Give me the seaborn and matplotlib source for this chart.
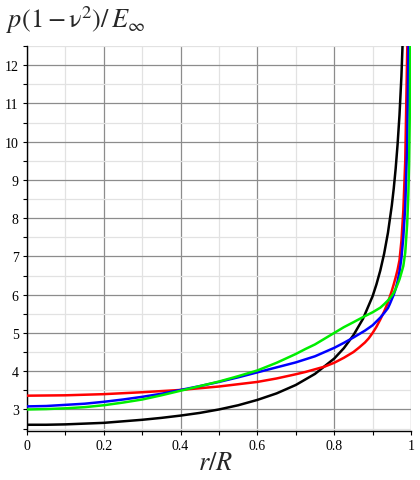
import numpy as np
import pandas as pd
import seaborn as sns
import matplotlib
matplotlib.use("Agg")
import matplotlib.pyplot as plt
from matplotlib.ticker import MultipleLocator

# values
r_black = [0, 0.05, 0.1, 0.15, 0.2, 0.25, 0.3, 0.35, 0.4, 0.45, 0.5, 0.55,
           0.6, 0.65, 0.7, 0.75, 0.8, 0.825, 0.85, 0.875, 0.9, 0.91, 0.92,
           0.93, 0.94, 0.95, 0.955, 0.96, 0.965, 0.97, 0.975, 0.98]
p_black = [2.60, 2.60, 2.61, 2.63, 2.65, 2.69, 2.73, 2.78, 2.84, 2.91, 3.00,
           3.11, 3.25, 3.42, 3.64, 3.93, 4.33, 4.60, 4.94, 5.37, 5.96, 6.27,
           6.63, 7.07, 7.62, 8.33, 8.77, 9.29, 9.92, 10.69, 11.70, 13.07]

r_red = [0, 0.1, 0.2, 0.3, 0.4, 0.5, 0.6, 0.65, 0.7, 0.725, 0.75, 0.775,
         0.8, 0.825, 0.85, 0.865, 0.88, 0.89, 0.9, 0.91, 0.92, 0.93, 0.94,
         0.945, 0.95, 0.955, 0.96, 0.965, 0.97, 0.975, 0.98, 0.985, 0.99,
         0.992]
p_red = [3.36, 3.37, 3.40, 3.45, 3.51, 3.60, 3.72, 3.81, 3.92, 3.98, 4.05,
         4.12, 4.22, 4.35, 4.50, 4.62, 4.75, 4.86, 5.00, 5.16, 5.35, 5.56,
         5.80, 5.95, 6.10, 6.27, 6.45, 6.65, 6.90, 7.40, 8.20, 9.50, 12.30,
         13.2]

r_blue = [0, 0.05, 0.1, 0.15, 0.2, 0.25, 0.3, 0.35, 0.4, 0.45, 0.5, 0.55,
          0.6, 0.65, 0.7, 0.75, 0.8, 0.825, 0.85, 0.865, 0.88, 0.89, 0.9,
          0.91, 0.92, 0.93, 0.94, 0.945, 0.95, 0.955, 0.96, 0.965, 0.97,
          0.975, 0.98, 0.985, 0.99, 0.995]
p_blue = [3.08, 3.09, 3.12, 3.15, 3.20, 3.26, 3.33, 3.41, 3.51, 3.61, 3.72,
          3.84, 3.97, 4.10, 4.23, 4.39, 4.61, 4.74, 4.88, 4.97, 5.06, 5.13,
          5.20, 5.30, 5.40, 5.52, 5.65, 5.76, 5.88, 6.00, 6.15, 6.35, 6.60,
          6.95, 7.50, 8.30, 9.90, 13.5]

r_green = [0, 0.05, 0.1, 0.15, 0.2, 0.25, 0.3, 0.35, 0.4, 0.45, 0.5, 0.55,
           0.6, 0.65, 0.7, 0.725, 0.75, 0.775, 0.8, 0.825, 0.85, 0.865, 0.88,
           0.89, 0.9, 0.91, 0.92, 0.93, 0.94, 0.945, 0.95, 0.955, 0.96,
           0.965, 0.97, 0.975, 0.98, 0.985, 0.99, 0.993, 0.995, 0.997, 0.999]
p_green = [3.00, 3.01, 3.03, 3.06, 3.11, 3.18, 3.26, 3.37, 3.49, 3.61, 3.73,
           3.87, 4.02, 4.22, 4.45, 4.58, 4.70, 4.85, 5.00, 5.15, 5.28, 5.36,
           5.44, 5.49, 5.54, 5.60, 5.66, 5.75, 5.85, 5.91, 5.97, 6.05, 6.15,
           6.27, 6.40, 6.57, 6.75, 7.10, 7.85, 8.60, 9.40, 10.80, 13.5]

x_ticks = [0, 0.2, 0.4, 0.6, 0.8, 1]
x_labels = ["0", "0.2", "0.4", "0.6", "0.8", "1"]
y_ticks = [3, 4, 5, 6, 7, 8, 9, 10, 11, 12]

sns.set_style("white")
plt.rcParams["font.family"] = ["Liberation Serif", "DejaVu Serif"]
plt.rcParams["mathtext.fontset"] = "stix"

fig = plt.figure(figsize=(4.2, 4.81), dpi=100)
ax = fig.add_axes([27 / 420, 1 - 431.5 / 481, 384 / 420, 384.5 / 481])

curves = [(r_black, p_black, "black"), (r_red, p_red, "#ff0000"),
          (r_blue, p_blue, "#0000ff"), (r_green, p_green, "#00ee00")]
for rr, pp, c in curves:
    d = pd.DataFrame({"r": rr, "p": pp})
    sns.lineplot(data=d, x="r", y="p", sort=False, color=c, lw=1.8, ax=ax,
                 zorder=3)

ax.set_xlim(0, 1)
ax.set_ylim(2.45, 12.5)
ax.set_xticks(x_ticks)
ax.set_xticklabels(x_labels)
ax.set_yticks(y_ticks)
ax.xaxis.set_minor_locator(MultipleLocator(0.1))
ax.yaxis.set_minor_locator(MultipleLocator(0.5))
ax.grid(which="major", color="#8c8c8c", lw=0.9)
ax.grid(which="minor", color="#e2e2e2", lw=0.9)
ax.set_axisbelow(True)
for s in ["top", "right"]:
    ax.spines[s].set_visible(False)
for s in ["left", "bottom"]:
    ax.spines[s].set_color("black")
    ax.spines[s].set_linewidth(1.0)
ax.tick_params(which="both", direction="out", length=3, width=0.8,
               labelsize=10, pad=3, colors="black", left=True, bottom=True)
ax.set_xlabel("")
ax.set_ylabel("")

fig.text(6 / 420, 1 - 20 / 481,
         r"$p\left(1-\mathrm{\nu}^{2}\right)/\,E_{\infty}$",
         fontsize=19, ha="left", va="center")
fig.text(216 / 420, 1 - 464 / 481, r"$r/R$", fontsize=19, ha="center",
         va="center")

fig.savefig("out.png", dpi=100)
